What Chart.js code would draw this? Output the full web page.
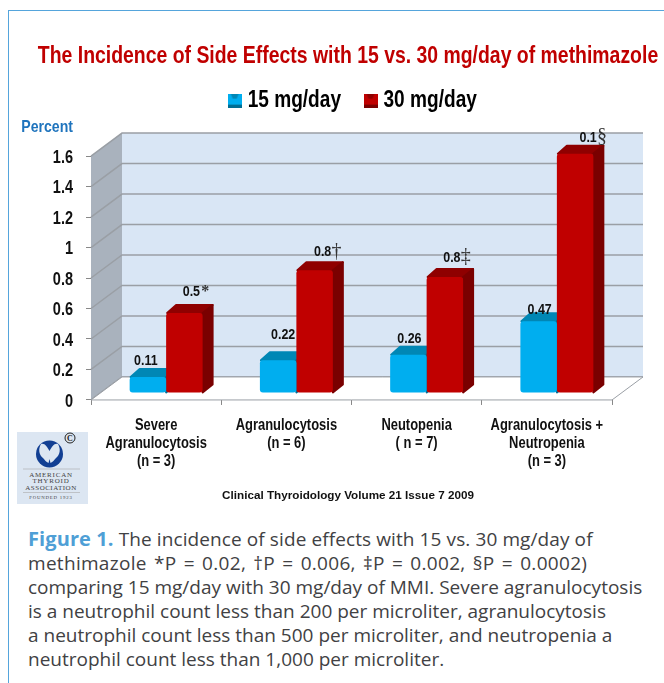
<!DOCTYPE html>
<html>
<head>
<meta charset="utf-8">
<title>Side effects of methimazole</title>
<script src="https://cdn.jsdelivr.net/npm/chart.js@4"></script>
<style>
    html, body { margin: 0; padding: 0; background: #fff; }
    #page { position: relative; width: 664px; height: 683px; overflow: hidden; }
    #frame { position: absolute; left: 8px; top: 10px; width: 664px; height: 690px;
             border-top: 1px solid #55a5dc; border-left: 1px solid #55a5dc; }
    #graph { position: absolute; left: 0; top: 0; }
    #logo { position: absolute; left: 17px; top: 432px; width: 71px; height: 72px; background: #dce6f2; }
    #caption { position: absolute; left: 28px; top: 527px; width: 630px; font: 19px/24px "Open Sans", sans-serif;
               color: #414143; white-space: nowrap; }
    #caption b { color: #4f9fd6; font-size: 20px; }
    #caption span { letter-spacing: 0.1px; }
    #caption i { font-style: normal; word-spacing: 2px; letter-spacing: 0.3px; }
</style>
</head>
<body>
<div id="page">
    <div id="frame"></div>
    <canvas id="graph" width="664" height="512"></canvas>
    <svg id="logo" viewBox="0 0 71 72" font-family="Liberation Serif" text-anchor="middle">
        <circle cx="32.5" cy="22" r="13.5" fill="#123f93"/>
        <path d="M24 12 C28 11 30 15 32.5 19 C35 15 37 11 41 12 C44 17 43 23 39 26 C37 28 36 30 33.5 31 L32.5 27 L31.5 31 C29 30 28 28 26 26 C22 23 21 17 24 12 Z" fill="#dce6f2"/>
        <circle cx="53" cy="6" r="5" fill="none" stroke="#222" stroke-width="1"/>
        <text x="53" y="9" font-size="8" font-weight="bold" fill="#222">C</text>
        <line x1="6" y1="37" x2="63" y2="37" stroke="#aaa" stroke-width="0.6"/>
        <text x="34" y="44.5" font-size="7" letter-spacing="0.8" fill="#444">AMERICAN</text>
        <text x="34" y="51" font-size="7" letter-spacing="0.8" fill="#444">THYROID</text>
        <text x="34" y="58" font-size="7" letter-spacing="0.5" fill="#444">ASSOCIATION</text>
        <line x1="6" y1="60.5" x2="63" y2="60.5" stroke="#aaa" stroke-width="0.6"/>
        <text x="34" y="67" font-size="4.8" letter-spacing="0.8" fill="#444">FOUNDED 1923</text>
    </svg>
    <div id="caption"><span><b>Figure 1.</b> The incidence of side effects with 15 vs. 30 mg/day of</span><br><i>methimazole *P = 0.02, †P = 0.006, ‡P = 0.002, §P = 0.0002)</i><br>comparing 15 mg/day with 30 mg/day of MMI. Severe agranulocytosis<br>is a neutrophil count less than 200 per microliter, agranulocytosis<br>a neutrophil count less than 500 per microliter, and neutropenia a<br>neutrophil count less than 1,000 per microliter.</div>
</div>

<script>
const categories = [
    ['Severe', 'Agranulocytosis', '(n = 3)'],
    ['Agranulocytosis', '(n = 6)'],
    ['Neutopenia', '( n = 7)'],
    ['Agranulocytosis +', 'Neutropenia', '(n = 3)']
];
const series15 = [0.105, 0.215, 0.25, 0.47];
const series30 = [0.525, 0.805, 0.76, 1.57];
const labels15 = ['0.11', '0.22', '0.26', '0.47'];
const labels30 = ['0.5', '0.8', '0.8', '0.1'];
const marks30 = ['*', '†', '‡', '§'];

// where the printed numbers sit relative to their bars
const lift15 = [16, 25, 16, 11];
const lift30 = [21, 18, 19, 16];
const shift15 = [-2, 5, 1, 1];
const shift30 = [7, 8, 7, 13];

const NARROW = '"Liberation Sans Narrow", "Liberation Sans", sans-serif';
const SQUEEZE = 0.83;
const WALL_DX = 31, WALL_DY = 23;   // depth of the 3d box
const BAR_DX = 10, BAR_DY = 7;      // bars stand part way into the box
const BAR_DEPTH_X = 10, BAR_DEPTH_Y = 8;

function makeSwatch(face, top, dark) {
    const c = document.createElement('canvas');
    c.width = 14; c.height = 14;
    const g = c.getContext('2d');
    g.fillStyle = face;
    g.fillRect(0, 0, 14, 14);
    g.fillStyle = top;
    g.beginPath();
    g.moveTo(3, 0); g.lineTo(11, 0); g.lineTo(9, 5); g.lineTo(5, 5);
    g.fill();
    g.fillStyle = dark;
    g.fillRect(0, 11, 14, 3);
    return c;
}

const box3d = {
    id: 'box3d',
    afterLayout(chart) {
        // legend sits higher and a little right of where the layout puts it
        chart.legend.top -= 34;
        chart.legend.bottom -= 34;
        chart.legend.left += 7;
        chart.legend.right += 7;
        // tick labels are clipped to the scale box, open it up to the canvas edge
        chart.scales.y.left = 0;
    },
    beforeDatasetsDraw(chart) {
        const ctx = chart.ctx;
        const a = chart.chartArea;
        const y = chart.scales.y;
        const top = y.getPixelForValue(1.6), zero = y.getPixelForValue(0);
        ctx.save();
        // back wall
        ctx.fillStyle = '#d9e6f5';
        ctx.fillRect(a.left + WALL_DX, top - WALL_DY, a.right - a.left, zero - top);
        // left wall
        ctx.fillStyle = '#a9b2bd';
        ctx.beginPath();
        ctx.moveTo(a.left, top);
        ctx.lineTo(a.left + WALL_DX, top - WALL_DY);
        ctx.lineTo(a.left + WALL_DX, zero - WALL_DY);
        ctx.lineTo(a.left, zero);
        ctx.closePath();
        ctx.fill();
        // grid lines run across the left wall then along the back
        ctx.strokeStyle = '#9a9fa5';
        ctx.lineWidth = 1.5;
        y.ticks.forEach(t => {
            const p = y.getPixelForValue(t.value);
            ctx.beginPath();
            ctx.moveTo(a.left, p);
            ctx.lineTo(a.left + WALL_DX, p - WALL_DY);
            ctx.lineTo(a.right + WALL_DX, p - WALL_DY);
            ctx.stroke();
        });
        // floor
        ctx.fillStyle = '#ffffff';
        ctx.lineWidth = 1;
        ctx.beginPath();
        ctx.moveTo(a.left, zero);
        ctx.lineTo(a.left + WALL_DX, zero - WALL_DY);
        ctx.lineTo(a.right + WALL_DX, zero - WALL_DY);
        ctx.lineTo(a.right, zero);
        ctx.closePath();
        ctx.fill();
        ctx.stroke();
        // top and side faces of the bars, which the library does not draw.
        // blue goes first so the red front hides its side
        ctx.translate(BAR_DX, -BAR_DY);
        ctx.lineJoin = 'round';
        ctx.lineWidth = 2;
        chart.data.datasets.forEach((ds, d) => {
            chart.getDatasetMeta(d).data.forEach(bar => {
                const l = bar.x - bar.width / 2, r = bar.x + bar.width / 2;
                ctx.fillStyle = ctx.strokeStyle = ds.topColor;
                ctx.beginPath();
                ctx.moveTo(l + 1, bar.y);
                ctx.lineTo(l + BAR_DEPTH_X, bar.y - BAR_DEPTH_Y);
                ctx.lineTo(r + BAR_DEPTH_X, bar.y - BAR_DEPTH_Y);
                ctx.lineTo(r, bar.y);
                ctx.closePath();
                ctx.fill();
                ctx.stroke();
                ctx.fillStyle = ctx.strokeStyle = ds.sideColor;
                ctx.beginPath();
                ctx.moveTo(r, bar.y);
                ctx.lineTo(r + BAR_DEPTH_X, bar.y - BAR_DEPTH_Y);
                ctx.lineTo(r + BAR_DEPTH_X, bar.base - BAR_DEPTH_Y);
                ctx.lineTo(r, bar.base);
                ctx.closePath();
                ctx.fill();
                ctx.stroke();
            });
        });
        ctx.restore();
    },
    // front faces stand in from the axis, shift them with the rest of the bar
    beforeDatasetDraw(chart) {
        chart.ctx.save();
        chart.ctx.translate(BAR_DX, -BAR_DY);
    },
    afterDatasetDraw(chart) {
        chart.ctx.restore();
    },
    afterDatasetsDraw(chart) {
        const ctx = chart.ctx;
        ctx.save();
        ctx.textBaseline = 'middle';
        ctx.textAlign = 'center';
        ctx.fillStyle = '#111';
        ctx.font = 'bold 15px ' + NARROW;
        chart.getDatasetMeta(0).data.forEach((bar, i) => {
            ctx.fillText(labels15[i], bar.x + BAR_DX + shift15[i], bar.y - BAR_DY - lift15[i]);
        });
        chart.getDatasetMeta(1).data.forEach((bar, i) => {
            const x = bar.x + BAR_DX + shift30[i], y = bar.y - BAR_DY - lift30[i];
            ctx.font = 'bold 15px ' + NARROW;
            ctx.fillStyle = '#111';
            ctx.fillText(labels30[i], x, y);
            ctx.font = (i === 0 ? 'bold 16px ' : '20px ') + '"Liberation Serif", serif';
            ctx.fillStyle = '#333';
            ctx.fillText(marks30[i], x + 14, y - (i === 0 ? 0 : 1));
        });
        // axis caption above the scale
        ctx.font = 'bold 17px ' + NARROW;
        ctx.fillStyle = '#1f74bd';
        ctx.textAlign = 'right';
        ctx.fillText('Percent', 73, 127);
        ctx.restore();
    }
};

const ctx = document.getElementById('graph').getContext('2d');

// no narrow face is installed, so squeeze the plain one when the narrow stack is asked for
const plainFill = ctx.fillText.bind(ctx);
const plainMeasure = ctx.measureText.bind(ctx);
ctx.fillText = (text, x, y) => {
    if (ctx.font.includes('Narrow')) {
        plainFill(text, x, y, plainMeasure(text).width * SQUEEZE);
    } else {
        plainFill(text, x, y);
    }
};
ctx.measureText = text => {
    const w = plainMeasure(text).width;
    return { width: ctx.font.includes('Narrow') ? w * SQUEEZE : w };
};

new Chart(ctx, {
    type: 'bar',
    data: {
        labels: categories,
        datasets: [{
            label: '15 mg/day',
            data: series15,
            backgroundColor: '#00aeef',
            topColor: '#0087b5',
            sideColor: '#006e94',
            borderRadius: 3,
            borderSkipped: false,
            clip: false
        }, {
            label: '30 mg/day',
            data: series30,
            backgroundColor: '#c00000',
            topColor: '#8f0000',
            sideColor: '#7a0000',
            borderRadius: 3,
            borderSkipped: false,
            clip: false
        }]
    },
    options: {
        responsive: false,
        animation: false,
        categoryPercentage: 0.56,
        barPercentage: 1,
        // left padding keeps the title centred over the whole figure, not just the plot
        layout: { padding: { left: 84, right: 52, top: 0, bottom: 0 } },
        plugins: {
            title: {
                display: true,
                text: 'The Incidence of Side Effects with 15 vs. 30 mg/day of methimazole',
                color: '#c00000',
                font: { family: NARROW, size: 23.4, weight: 'bold' },
                padding: { top: 43, bottom: 24 }
            },
            legend: {
                position: 'top',
                labels: {
                    color: '#000',
                    font: { family: NARROW, size: 23, weight: 'bold' },
                    usePointStyle: true,
                    boxWidth: 3,
                    padding: 28,
                    generateLabels(chart) {
                        return chart.data.datasets.map((ds, i) => ({
                            text: ds.label,
                            datasetIndex: i,
                            pointStyle: makeSwatch(ds.backgroundColor, ds.topColor, ds.sideColor),
                            fontColor: '#000'
                        }));
                    }
                }
            },
            subtitle: {
                display: true,
                position: 'bottom',
                text: 'Clinical Thyroidology Volume 21 Issue 7 2009',
                color: '#111',
                font: { family: '"Liberation Sans", sans-serif', size: 11.7, weight: 'bold' },
                padding: { top: 0, bottom: 9 }
            },
            tooltip: { enabled: false }
        },
        scales: {
            x: {
                grid: { drawOnChartArea: false, tickLength: 5, color: '#888' },
                border: { color: '#888' },
                afterFit(scale) { scale.height = 89; },
                ticks: {
                    color: '#111',
                    padding: 12,
                    maxRotation: 0,
                    autoSkip: false,
                    font: { family: NARROW, size: 15.6, weight: 'bold', lineHeight: 1.154 }
                }
            },
            y: {
                min: 0,
                max: 1.6,
                grid: { drawOnChartArea: false, tickLength: 5, color: '#888' },
                border: { color: '#888' },
                afterFit(scale) { scale.width = 7; },
                ticks: {
                    stepSize: 0.2,
                    color: '#111',
                    padding: 13,
                    labelOffset: 2,
                    font: { family: NARROW, size: 17.5, weight: 'bold' },
                    callback: v => String(+v.toFixed(1))
                }
            }
        }
    },
    plugins: [box3d]
});
</script>
</body>
</html>
